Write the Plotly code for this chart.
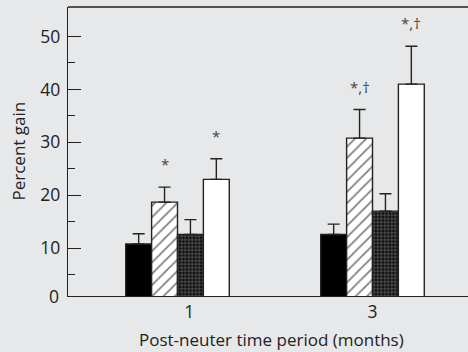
import plotly.graph_objects as go

periods = ["1", "3"]
series_names = ["Group A", "Group B", "Group C", "Group D"]
means = [
    [10.8, 12.6],   # black
    [18.7, 30.8],   # hatched
    [12.6, 17.0],   # crosshatch
    [23.0, 41.0],   # white
]
errors = [
    [1.95, 1.95],
    [2.85, 5.4],
    [2.8, 3.3],
    [3.9, 7.15],
]
sig_labels = [
    ["", ""],
    ["*", "*,†"],
    ["", ""],
    ["*", "*,†"],
]

BG = "#e7e8e9"
INK = "#222222"
FONT = "Open Sans"

xpos = list(range(len(periods)))
styles = [
    dict(color="black", pattern=None),
    dict(color="white", pattern=dict(shape="/", fgcolor="#000000", bgcolor="white", size=8, solidity=0.22)),
    dict(color="black", pattern=dict(shape="+", fgcolor="#d8d8d8", bgcolor="#0d0d0d", size=3.5, solidity=0.32)),
    dict(color="white", pattern=None),
]

fig = go.Figure()
for name, vals, errs, st in zip(series_names, means, errors, styles):
    marker = dict(color=st["color"], line=dict(color="#222222", width=1.4))
    if st["pattern"]:
        marker["pattern"] = st["pattern"]
    fig.add_trace(go.Bar(
        x=xpos, y=vals, name=name, marker=marker,
        error_y=dict(type="data", symmetric=False, array=errs,
                     arrayminus=[0] * len(errs), color="#222222",
                     thickness=1.4, width=6),
        showlegend=False,
    ))

GROUP_W = 0.531
bar_w = GROUP_W / len(series_names)
annotations = []
for i, (vals, errs, labs) in enumerate(zip(means, errors, sig_labels)):
    for j, lab in enumerate(labs):
        if not lab:
            continue
        annotations.append(dict(
            x=xpos[j] + (i - 1.5) * bar_w, y=vals[j] + errs[j] + 4.3,
            xref="x", yref="y", text=lab, showarrow=False,
            font=dict(family=FONT, size=15, color="#444444"),
            xanchor="center", yanchor="middle"))

annotations += [
    dict(text="Post-neuter time period (months)", xref="paper", yref="paper",
         x=0.509, y=-0.152, xanchor="center", yanchor="middle", showarrow=False,
         font=dict(family=FONT, size=17, color=INK)),
    dict(text="Percent gain", xref="paper", yref="paper", textangle=-90,
         x=-0.125, y=0.5, xanchor="center", yanchor="middle", showarrow=False,
         font=dict(family=FONT, size=17, color=INK)),
    dict(text="0", xref="paper", yref="paper", x=-0.0175, y=0.0,
         xanchor="right", yanchor="middle", showarrow=False,
         font=dict(family=FONT, size=17.5, color=INK)),
]

fig.update_layout(
    width=468, height=352,
    margin=dict(l=68, r=0, t=7, b=56),
    paper_bgcolor=BG, plot_bgcolor=BG,
    barmode="group", bargap=1 - GROUP_W, bargroupgap=0,
    font=dict(family=FONT, color=INK),
    annotations=annotations,
    shapes=[dict(type="line", xref="paper", yref="paper", x0=0, x1=1, y0=1, y1=1,
                 line=dict(color="#222222", width=1.4))],
)
fig.update_xaxes(
    range=[-0.5615, 1.4897], showgrid=False, zeroline=False,
    showline=True, linecolor="#222222", linewidth=1.4,
    tickvals=[0.06, 1.0], ticktext=periods, ticks="",
    tickfont=dict(family=FONT, size=17.5, color=INK),
)
fig.update_yaxes(
    range=[0.98, 55.56], showgrid=False, zeroline=False,
    showline=True, linecolor="#222222", linewidth=1.4,
    tickvals=[10, 20, 30, 40, 50], ticks="inside", ticklen=13, tickwidth=1.4,
    tickcolor="#222222", ticklabelstandoff=3,
    minor=dict(tickvals=[5, 15, 25, 35, 45], ticks="inside", ticklen=7,
               tickwidth=1.4, tickcolor="#222222"),
    tickfont=dict(family=FONT, size=17.5, color=INK),
)

fig.write_html("out.html")
